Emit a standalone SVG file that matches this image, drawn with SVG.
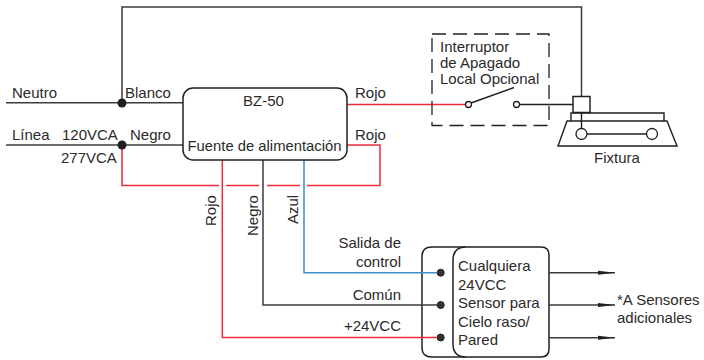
<svg xmlns="http://www.w3.org/2000/svg" width="704" height="360" viewBox="0 0 704 360">
<style>
text{font-family:"Liberation Sans",Arial,sans-serif;font-size:15px;fill:#2b2a2a}
.w{fill:none;stroke:#3c3c3c;stroke-width:1.5}
.k{fill:none;stroke:#1f1f1f;stroke-width:1.4}
.r{fill:none;stroke:#ed2b3a;stroke-width:1.5}
.b{fill:none;stroke:#3d8ec9;stroke-width:1.5}
.box{fill:#fff;stroke:#231f20;stroke-width:1.5}
.o{fill:#fff;stroke:#231f20;stroke-width:1.3}
.d{fill:#231f20}
.t{fill:#333;stroke:#231f20}
</style>
<defs>
<marker id="ah" markerUnits="userSpaceOnUse" markerWidth="18" markerHeight="6" refX="17" refY="3" orient="auto"><path d="M0 1L17 3L0 5Z" fill="#231f20"/></marker>
</defs>
<g id="sensor">
<path class="box" d="M432 247H541Q549 247 549 255V349Q549 357 541 357H432Q422 357 422 348V256Q422 247 432 247Z"/>
<path class="box" d="M466 247Q453 247 453 260V344Q453 357 466 357"/>
<circle class="t" cx="440.700" cy="272.700" r="3.500"/>
<circle class="t" cx="440.700" cy="305" r="3.500"/>
<circle class="t" cx="440.700" cy="337.500" r="3.500"/>
<text x="458" y="271">Cualquiera</text>
<text x="458" y="290">24VCC</text>
<text x="458" y="308">Sensor para</text>
<text x="458" y="327">Cielo raso/</text>
<text x="458" y="345">Pared</text>
</g>
<g id="connectors">
<path class="w" d="M6 102.700H183"/>
<path class="w" d="M6 145H183"/>
<path class="w" d="M122 103V7H581.500V97"/>
<path class="r" d="M122 145V185.500H219M226 185.500H259M267 185.500H300M307 185.500H380V145H346"/>
<path class="r" d="M346 104.500H466"/>
<path class="k" d="M519 104.500H573"/>
<path class="k" d="M471 103L514 87.500"/>
<path class="r" d="M222.300 160V337.500H437"/>
<path class="w" d="M263 160V305H437"/>
<path class="b" d="M304 160V272.700H437"/>
<path class="w" d="M549 272.700H615" marker-end="url(#ah)"/>
<path class="w" d="M549 305H615" marker-end="url(#ah)"/>
<path class="w" d="M549 337.700H615" marker-end="url(#ah)"/>
</g>
<g id="junctions">
<circle class="d" cx="122" cy="103" r="4.500"/>
<circle class="d" cx="122" cy="145" r="4.500"/>
</g>
<g id="line-labels">
<text x="12" y="97.700">Neutro</text>
<text x="125" y="97.700">Blanco</text>
<text x="12" y="140">Línea</text>
<text x="62" y="140">120VCA</text>
<text x="130" y="140">Negro</text>
<text x="61" y="162.700">277VCA</text>
<text x="355" y="98">Rojo</text>
<text x="355" y="140">Rojo</text>
<text transform="translate(216,226) rotate(-90)">Rojo</text>
<text transform="translate(258,236) rotate(-90)">Negro</text>
<text transform="translate(298,224) rotate(-90)">Azul</text>
<text x="401" y="247.700" text-anchor="end">Salida de</text>
<text x="401" y="266.700" text-anchor="end">control</text>
<text x="401" y="300" text-anchor="end">Común</text>
<text x="401" y="330.700" text-anchor="end">+24VCC</text>
</g>
<g id="bz50">
<rect class="box" x="183" y="88" width="164" height="72" rx="10"/>
<text x="263.500" y="106" text-anchor="middle">BZ-50</text>
<text x="264.500" y="150.700" text-anchor="middle" style="font-size:14.800px">Fuente de alimentación</text>
</g>
<g id="switch">
<rect x="432" y="34" width="117" height="91.500" fill="none" stroke="#231f20" stroke-width="1.300" stroke-dasharray="14 7"/>
<text x="440" y="51.700">Interruptor</text>
<text x="440" y="67.700">de Apagado</text>
<text x="440" y="83.700">Local Opcional</text>
<circle class="o" cx="468.500" cy="104.500" r="3"/>
<circle class="o" cx="516.500" cy="104.500" r="3"/>
</g>
<g id="fixtura">
<path class="k" d="M571 121V113H664V121"/>
<path class="k" d="M558 146L567 121H667L677 146Z"/>
<path class="k" d="M581.500 113V129"/>
<rect x="573" y="96.500" width="17" height="16" fill="#fff" stroke="#231f20" stroke-width="1.500"/>
<path class="k" d="M586 134H647"/>
<circle class="o" cx="581.500" cy="134" r="5.500"/>
<circle class="o" cx="652" cy="134" r="5.500"/>
<text x="617" y="163.300" text-anchor="middle">Fixtura</text>
</g>
<g id="note">
<text x="617" y="305">*A Sensores</text>
<text x="617" y="323">adicionales</text>
</g>
</svg>
